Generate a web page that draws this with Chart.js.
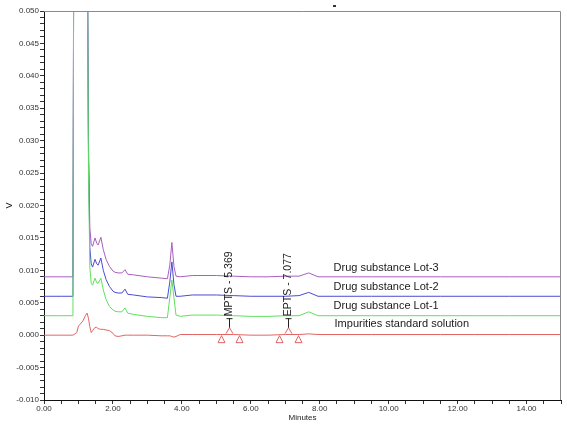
<!DOCTYPE html>
<html>
<head>
<meta charset="utf-8">
<script src="https://cdn.jsdelivr.net/npm/chart.js@4.4.1/dist/chart.umd.min.js"></script>
<style>
  html, body { margin: 0; padding: 0; background: #fff; }
  canvas { display: block; }
</style>
</head>
<body>
<canvas id="chrom" width="567" height="429"></canvas>
<script>
// retention time (minutes), shared by all four traces
const minutes = [0, 0.5, 0.84, 0.87,
  0.95, 1.0, 1.05, 1.13, 1.2,
  1.25, 1.29, 1.33, 1.37, 1.41,
  1.48, 1.53, 1.57, 1.65, 1.72,
  1.8, 1.9, 2.0, 2.06, 2.15,
  2.26, 2.35, 2.43, 2.6, 3.0,
  3.4, 3.58, 3.65, 3.71, 3.77,
  3.83, 3.95, 4.3, 5.0, 5.5,
  6.0, 6.5, 7.0, 7.4, 7.68,
  7.95, 8.5, 9.5, 10.5, 11.5,
  12.5, 13.5, 15];

// detector response (V); the big solvent peak goes far off scale
const lot3 = [0.0090, 0.0090, 0.0090, 0.080,
  0.090, 0.090, 0.090, 0.090, 0.090,
  0.070, 0.030, 0.0165, 0.0141, 0.0137,
  0.0150, 0.0142, 0.0139, 0.0151, 0.0132,
  0.0117, 0.0106, 0.0099, 0.0097, 0.0096,
  0.0096, 0.0101, 0.0094, 0.0093, 0.0090,
  0.0088, 0.0087, 0.0108, 0.0143, 0.0106,
  0.0091, 0.0090, 0.0092, 0.0092, 0.0091,
  0.0090, 0.0090, 0.0091, 0.0091, 0.0096,
  0.0090, 0.0090, 0.0090, 0.0090, 0.0090,
  0.0090, 0.0090, 0.0090];

const lot2 = [0.0060, 0.0060, 0.0060, 0.080,
  0.090, 0.090, 0.090, 0.090, 0.090,
  0.070, 0.028, 0.0135, 0.0110, 0.0105,
  0.0117, 0.0110, 0.0108, 0.0119, 0.0100,
  0.0086, 0.0075, 0.0068, 0.0066, 0.0065,
  0.0065, 0.0071, 0.0063, 0.0062, 0.0059,
  0.0058, 0.0057, 0.0082, 0.0113, 0.0078,
  0.0060, 0.0060, 0.0062, 0.0062, 0.0061,
  0.0060, 0.0060, 0.0060, 0.0061, 0.0066,
  0.0060, 0.0060, 0.0060, 0.0060, 0.0060,
  0.0060, 0.0060, 0.0060];

const lot1 = [0.0030, 0.0030, 0.0030, 0.080,
  0.090, 0.090, 0.090, 0.090, 0.090,
  0.070, 0.026, 0.0105, 0.0080, 0.0077,
  0.0088, 0.0081, 0.0080, 0.0088, 0.0070,
  0.0055, 0.0044, 0.0039, 0.0037, 0.0036,
  0.0036, 0.0042, 0.0034, 0.0032, 0.0029,
  0.0027, 0.0027, 0.0058, 0.0085, 0.0058,
  0.0031, 0.0029, 0.0031, 0.0031, 0.0030,
  0.0029, 0.0029, 0.0030, 0.0030, 0.0036,
  0.0030, 0.0030, 0.0030, 0.0030, 0.0030,
  0.0030, 0.0030, 0.0030];

const impStd = [0.0000, 0.0000, 0.0000, 0.0001,
  0.0004, 0.0014, 0.0017, 0.0022, 0.0030,
  0.0034, 0.0026, 0.0013, 0.0004, 0.0007,
  0.0012, 0.0012, 0.0010, 0.0009, 0.0009,
  0.0008, 0.0007, 0.0003, -0.0001, -0.0002,
  -0.0001, 0.0000, 0.0000, 0.0000, 0.0000,
  -0.0001, -0.0001, -0.0001, -0.0002, -0.0003,
  -0.0002, 0.0001, 0.0001, 0.0001, 0.0001,
  0.0000, 0.0000, 0.0001, 0.0001, 0.0002,
  0.0001, 0.0001, 0.0001, 0.0001, 0.0001,
  0.0001, 0.0001, 0.0001];

const traceNames = ['Drug substance Lot-1', 'Drug substance Lot-2', 'Drug substance Lot-3', 'Impurities standard solution'];
const traceColors = ['#5fe05f', '#4b4bd2', '#a95fbf', '#e26464'];
// where the trace names are written (minutes, V)
const nameX = [8.4, 8.4, 8.4, 8.43];
const nameY = [0.0045, 0.0074, 0.0103, 0.0017];

// labelled impurity peaks in the standard
const peakLabels = ['MPTS - 5.369', 'EPTS - 7.077'];
const peakRT = [5.369, 7.077];
const peakStart = [5.13, 6.81];
const peakEnd = [5.65, 7.36];

const series = [lot1, lot2, lot3, impStd];
const toPoints = vals => minutes.map((m, i) => ({ x: m, y: vals[i] }));

const FONT = '"Liberation Sans", Arial, sans-serif';

const annotate = {
    id: 'annotate',
    afterDatasetsDraw(chart) {
        const { ctx, chartArea: a, scales: { x, y } } = chart;
        ctx.save();

        // grey frame on top and right
        ctx.strokeStyle = '#8a8a8a';
        ctx.lineWidth = 1;
        ctx.beginPath();
        ctx.moveTo(a.left, a.top + 0.5);
        ctx.lineTo(a.right - 0.5, a.top + 0.5);
        ctx.lineTo(a.right - 0.5, a.bottom);
        ctx.stroke();

        // trace names
        ctx.fillStyle = '#1a1a1a';
        ctx.font = '11px ' + FONT;
        ctx.textBaseline = 'middle';
        ctx.textAlign = 'left';
        traceNames.forEach((n, i) => {
            ctx.fillText(n, x.getPixelForValue(nameX[i]), y.getPixelForValue(nameY[i]));
        });

        // peak marks
        const base = y.getPixelForValue(0);
        peakRT.forEach((rt, i) => {
            const px = Math.round(x.getPixelForValue(rt)) + 0.5;

            ctx.strokeStyle = '#e26464';
            ctx.beginPath();
            ctx.moveTo(px - 3.5, base - 1.5);
            ctx.lineTo(px, base - 7.5);
            ctx.lineTo(px + 3.5, base - 1.5);
            ctx.stroke();

            [peakStart[i], peakEnd[i]].forEach(t => {
                const tx = Math.round(x.getPixelForValue(t)) + 0.5;
                ctx.beginPath();
                ctx.moveTo(tx, base + 0.5);
                ctx.lineTo(tx - 3.5, base + 7.5);
                ctx.lineTo(tx + 3.5, base + 7.5);
                ctx.closePath();
                ctx.stroke();
            });

            ctx.strokeStyle = '#222';
            ctx.beginPath();
            ctx.moveTo(px, base - 7.5);
            ctx.lineTo(px, base - 17);
            ctx.moveTo(px - 3, base - 16.5);
            ctx.lineTo(px + 3, base - 16.5);
            ctx.stroke();

            ctx.save();
            ctx.translate(px, base - 19);
            ctx.rotate(-Math.PI / 2);
            ctx.fillStyle = '#1a1a1a';
            ctx.font = '10.5px ' + FONT;
            ctx.textAlign = 'left';
            ctx.textBaseline = 'middle';
            ctx.fillText(peakLabels[i], 0, 0);
            ctx.restore();
        });

        // small stray mark above the frame
        ctx.fillStyle = '#333';
        ctx.fillRect(333, 5, 3, 2);

        ctx.restore();
    }
};

new Chart(document.getElementById('chrom'), {
    type: 'line',
    data: {
        datasets: series.map((vals, i) => ({
            label: traceNames[i],
            data: toPoints(vals),
            borderColor: traceColors[i],
            borderWidth: 1,
            pointRadius: 0,
            tension: 0,
            fill: false
        }))
    },
    options: {
        responsive: false,
        animation: false,
        events: [],
        layout: { padding: { top: 11, right: 6, left: 0, bottom: 0 } },
        plugins: {
            legend: { display: false },
            tooltip: { enabled: false }
        },
        scales: {
            x: {
                type: 'linear',
                min: 0,
                max: 15,
                afterFit: s => { s.height = 29; },
                ticks: {
                    stepSize: 0.5,
                    autoSkip: false,
                    maxRotation: 0,
                    padding: 0,
                    color: '#333',
                    font: { family: FONT, size: 8 },
                    callback: v => (Math.round(v * 2) % 4 === 0 ? v.toFixed(2) : '')
                },
                grid: { drawOnChartArea: false, tickLength: 4, tickColor: '#333' },
                border: { color: '#111' },
                title: {
                    display: true,
                    text: 'Minutes',
                    color: '#222',
                    font: { family: FONT, size: 8 },
                    padding: { top: 0, bottom: 6 }
                }
            },
            y: {
                min: -0.010,
                max: 0.050,
                afterFit: s => { s.width = 44; },
                ticks: {
                    stepSize: 0.001,
                    autoSkip: false,
                    padding: 1,
                    color: '#333',
                    font: { family: FONT, size: 8 },
                    callback: v => (Math.round(v * 1000) % 5 === 0 ? (Math.round(v * 1000) / 1000).toFixed(3) : '')
                },
                grid: { drawOnChartArea: false, tickLength: 4, tickColor: '#333' },
                border: { color: '#111' },
                title: {
                    display: true,
                    text: 'V',
                    color: '#222',
                    font: { family: FONT, size: 9 },
                    padding: { top: 4, bottom: 0 }
                }
            }
        }
    },
    plugins: [annotate]
});
</script>
</body>
</html>
